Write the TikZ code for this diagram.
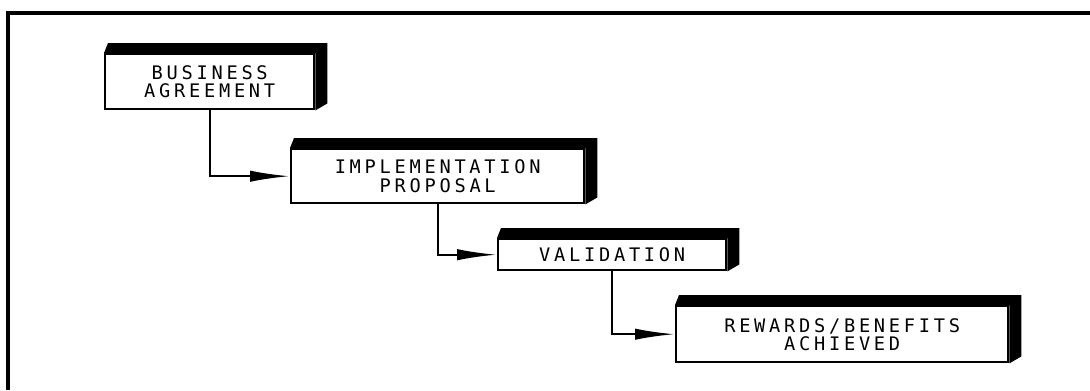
\documentclass[tikz,border=0pt]{standalone}
\usepackage{fontspec}
\setmonofont[LetterSpace=20]{DejaVu Sans Mono}
\usetikzlibrary{calc,arrows.meta}
\tikzset{
  stepbox/.style={draw=black, line width=1.8pt, fill=white, anchor=north west,
    inner sep=0pt, font=\ttfamily\fontsize{14}{13.5}\selectfont, align=center},
  flow/.style={line width=1.8pt, -{Latex[length=30pt,width=8.5pt]}},
}
\newcommand\boxshade[1]{%
  \fill[black] (#1.north west) -- ++(4,-10) -- ($(#1.north east)+(12,-10)$)
    -- ($(#1.south east)+(12,-7)$) -- (#1.south east) -- (#1.north east) -- cycle;}
\begin{document}
\begin{tikzpicture}[x=0.75pt,y=-0.75pt]
\useasboundingbox (0,0) rectangle (1090,390);
\draw[line width=2.6pt] (8,390) -- (8,13) -- (1090,13);
\node[stepbox, minimum width=209*0.75pt, minimum height=55*0.75pt] (b1) at (104,53) {BUSINESS\\AGREEMENT};
\node[stepbox, minimum width=293*0.75pt, minimum height=54*0.75pt] (b2) at (290,148) {IMPLEMENTATION\\PROPOSAL};
\node[stepbox, minimum width=228*0.75pt, minimum height=31*0.75pt] (b3) at (497,238) {VALIDATION};
\node[stepbox, minimum width=332*0.75pt, minimum height=56*0.75pt] (b4) at (675,305) {REWARDS/BENEFITS\\ACHIEVED};
\boxshade{b1}
\boxshade{b2}
\boxshade{b3}
\boxshade{b4}
\draw[flow] (b1.south) |- (b2.west);
\draw[flow] (b2.south) |- (b3.west);
\draw[flow] (b3.south) |- (b4.west);
\end{tikzpicture}
\end{document}
